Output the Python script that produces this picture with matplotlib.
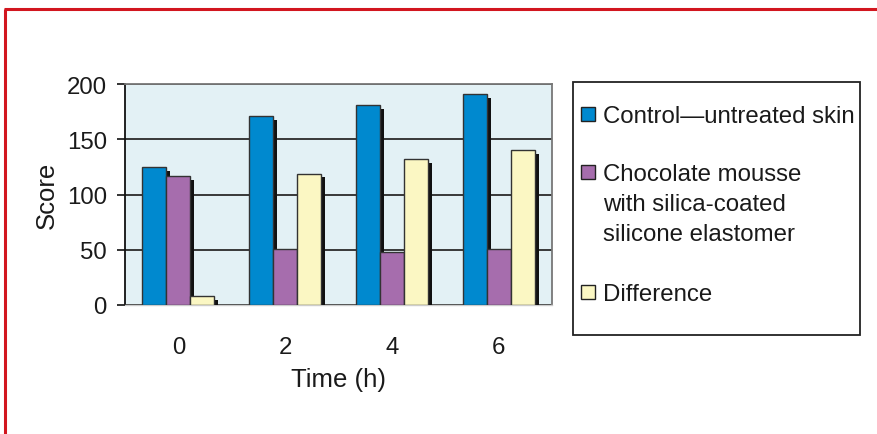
import matplotlib
matplotlib.use("Agg")
import matplotlib.pyplot as plt
from matplotlib.patches import Rectangle
from matplotlib.lines import Line2D
import numpy as np

plt.rcParams['font.family'] = ['Liberation Sans', 'DejaVu Sans']

# Data
times = ["0", "2", "4", "6"]
control = [125, 171, 181, 191]
mousse = [117, 51, 48, 51]
difference = [8, 119, 132, 140]

series_labels = [
    ["Control\u2014untreated skin"],
    ["Chocolate mousse", "with silica-coated", "silicone elastomer"],
    ["Difference"],
]
series_colors = ["#0089CF", "#A66DAD", "#FBF7C3"]

W, H = 877, 435
fig = plt.figure(figsize=(W / 100, H / 100), dpi=100)

# Red frame along top and left edge
fig.add_artist(Line2D([4 / W, 1], [1 - 9.5 / H, 1 - 9.5 / H], color="#D2161F",
                      lw=2.2, transform=fig.transFigure, solid_capstyle="butt"))
fig.add_artist(Line2D([5 / W, 5 / W], [0, 1 - 9.5 / H], color="#D2161F",
                      lw=2.2, transform=fig.transFigure, solid_capstyle="butt"))

ax = fig.add_axes([125 / W, 1 - 306 / H, 427 / W, 221 / H])
ax.set_facecolor("#E3F1F5")

x = np.arange(len(times))
width = 0.225
offsets = [-width, 0, width]
all_series = [control, mousse, difference]

# Shadow offset for the drop-shadow effect on each bar
dx = 0.038
dy = 3.6

for i, (vals, col) in enumerate(zip(all_series, series_colors)):
    xs = x + offsets[i]
    ax.bar(xs + dx, np.array(vals) - dy, width=width, color="#111111",
           zorder=3 + 2 * i, linewidth=0)
    ax.bar(xs, vals, width=width, color=col, edgecolor="#333333",
           linewidth=1.0, zorder=4 + 2 * i)

ax.set_xlim(-0.5, 3.5)
ax.set_ylim(0, 200)
ax.set_yticks([0, 50, 100, 150, 200])
ax.set_xticks(x)
ax.set_xticklabels(times)

ax.yaxis.grid(True, color="#383838", linewidth=1.4, zorder=1)
ax.set_axisbelow(True)

ax.spines["left"].set_color("#111111")
ax.spines["left"].set_linewidth(1.3)
ax.spines["top"].set_color("#777777")
ax.spines["top"].set_linewidth(1.3)
ax.spines["right"].set_color("#777777")
ax.spines["right"].set_linewidth(1.3)
ax.spines["bottom"].set_color("#cccccc")
ax.spines["bottom"].set_linewidth(1.0)

ax.tick_params(axis="y", length=6, width=1.2, color="#111111", pad=7,
               labelsize=17.3, labelcolor="#1a1a1a")
ax.tick_params(axis="x", length=0, pad=22, labelsize=17.3, labelcolor="#1a1a1a")

ax.set_xlabel("Time (h)", fontsize=18.5, labelpad=7, color="#1a1a1a")
ax.set_ylabel("Score", fontsize=18.5, labelpad=6, color="#1a1a1a")

# Legend panel
lx0, lx1, ly0, ly1 = 573, 860, 83, 336
fig.add_artist(Rectangle((lx0 / W, 1 - ly1 / H), (lx1 - lx0) / W, (ly1 - ly0) / H,
                         transform=fig.transFigure, facecolor="white",
                         edgecolor="#222222", linewidth=1.3))
line_centers = [[114], [172, 202, 232], [292]]
square_centers = [115, 173, 293]
fs = 17.3
cap_half = 0.36 * fs * 100 / 72
for lines, col, ys, sy in zip(series_labels, series_colors, line_centers, square_centers):
    sq = 14
    fig.add_artist(Rectangle((581 / W, 1 - (sy + sq / 2) / H), sq / W, sq / H,
                             transform=fig.transFigure, facecolor=col,
                             edgecolor="#222222", linewidth=1.0))
    for txt, yy in zip(lines, ys):
        fig.text(603 / W, 1 - (yy + cap_half) / H, txt, fontsize=fs,
                 va="baseline", ha="left", color="#1a1a1a")

fig.savefig("out.png", dpi=100)
